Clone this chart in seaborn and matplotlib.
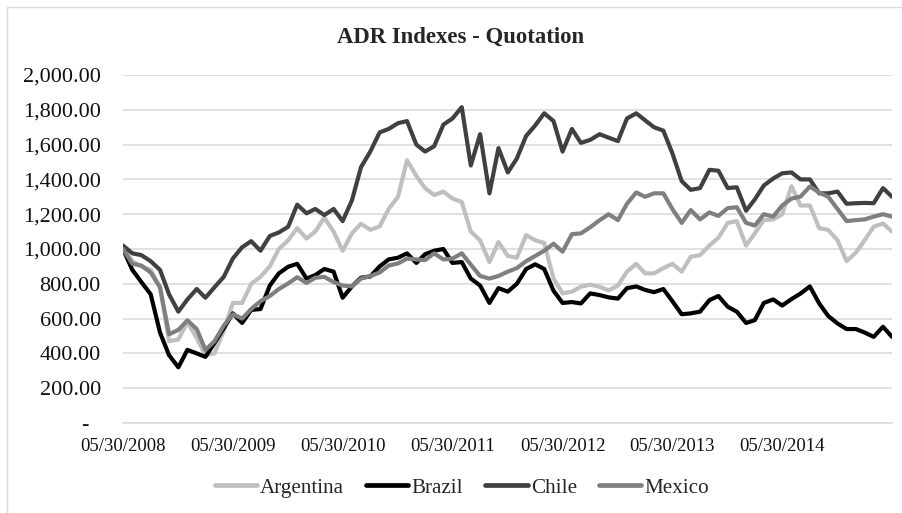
import pandas as pd
import seaborn as sns
from matplotlib import pyplot as plt
from matplotlib.patches import Rectangle
from matplotlib.ticker import FuncFormatter

# monthly readings (30th of each month, 05/2008 .. 05/2015)
start = "2008-05-30"
n_months = 85

argentina = [
    1000, 930, 900, 880, 780, 470, 480, 580, 488, 390,
    400, 530, 690, 690, 800, 840, 900, 1000, 1050, 1120,
    1060, 1100, 1180, 1100, 990, 1090, 1145, 1110, 1130, 1230,
    1300, 1510, 1420, 1350, 1310, 1330, 1290, 1270, 1100, 1050,
    925, 1040, 960, 950, 1080, 1050, 1035, 830, 745, 755,
    783, 795, 783, 762, 790, 870, 915, 860, 860, 890,
    915, 870, 955, 965, 1020, 1065, 1150, 1160, 1020, 1090,
    1166, 1170, 1200, 1360, 1250, 1250, 1120, 1110, 1050, 930,
    980, 1050, 1128, 1147, 1100,
]
brazil = [
    1000, 880, 810, 740, 520, 390, 320, 420, 400, 380,
    460, 545, 630, 575, 650, 655, 790, 860, 898, 915,
    830, 850, 885, 870, 720, 785, 835, 842, 900, 940,
    950, 975, 920, 970, 990, 1000, 920, 925, 830, 790,
    690, 775, 755, 800, 885, 912, 885, 760, 690, 695,
    687, 745, 735, 722, 715, 775, 785, 765, 752, 770,
    700, 625, 630, 640, 706, 730, 668, 640, 575, 591,
    690, 710, 675, 712, 744, 785, 687, 615, 572, 540,
    540, 520, 495, 553, 495,
]
chile = [
    1020, 975, 965, 930, 880, 740, 640, 710, 770, 720,
    780, 840, 945, 1010, 1045, 990, 1075, 1095, 1128, 1255,
    1205, 1230, 1195, 1230, 1160, 1280, 1470, 1560, 1670, 1690,
    1723, 1735, 1600, 1560, 1590, 1715, 1750, 1815, 1480, 1660,
    1320, 1580, 1440, 1520, 1650, 1710, 1780, 1735, 1560, 1690,
    1610, 1627, 1660, 1640, 1620, 1750, 1780, 1740, 1700, 1680,
    1550, 1390, 1340, 1350, 1455, 1450, 1350, 1355, 1220, 1285,
    1365, 1405, 1435, 1440, 1400, 1400, 1320, 1320, 1330, 1260,
    1263, 1265, 1263, 1350, 1300,
]
mexico = [
    1000, 915, 905, 865, 780, 510, 535, 590, 540, 420,
    470, 560, 625, 600, 655, 700, 730, 770, 802, 838,
    805, 835, 840, 810, 790, 785, 830, 845, 865, 905,
    917, 945, 940, 936, 975, 940, 945, 975, 910, 845,
    830, 845, 870, 890, 930, 960, 990, 1030, 985, 1085,
    1090, 1125, 1165, 1200, 1166, 1260, 1325, 1300, 1320, 1320,
    1230, 1150, 1224, 1170, 1210, 1190, 1235, 1240, 1150, 1135,
    1200, 1186, 1250, 1290, 1301, 1359, 1325, 1300, 1230, 1160,
    1166, 1170, 1186, 1200, 1186,
]

countries = ["Argentina", "Brazil", "Chile", "Mexico"]
colors = ["#bfbfbf", "#000000", "#404040", "#7f7f7f"]
tick_years = list(range(2008, 2016))

dates = [pd.Timestamp(start) + pd.DateOffset(months=k) for k in range(n_months)]
df = pd.DataFrame({"date": dates, "Argentina": argentina, "Brazil": brazil,
                   "Chile": chile, "Mexico": mexico})
df_long = df.melt(id_vars="date", var_name="country", value_name="value")

sns.set_style("white")
plt.rcParams["font.family"] = ["Liberation Serif", "DejaVu Serif"]

fig = plt.figure(figsize=(9.02, 5.13), dpi=100)
ax = fig.add_axes([123 / 902, 1 - 423 / 513, (892 - 123) / 902, (423 - 75) / 513])

sns.lineplot(data=df_long, x="date", y="value", hue="country", hue_order=countries,
             palette=colors, linewidth=3.0, ax=ax)

ax.set_ylim(0, 2000)
ax.set_yticks(range(0, 2001, 200))
ax.yaxis.set_major_formatter(FuncFormatter(lambda v, p: "-  " if v == 0 else f"{v:,.2f}"))
ax.set_xlim(pd.Timestamp("2008-05-30"), pd.Timestamp("2015-05-30"))
ticks = [pd.Timestamp(f"{y}-05-30") for y in tick_years]
ax.set_xticks(ticks)
ax.set_xticklabels([f"05/30/{y}" for y in tick_years[:-1]] + [""])
ax.set_xlabel("")
ax.set_ylabel("")

ax.grid(axis="y", color="#d9d9d9", linewidth=1.1)
ax.set_axisbelow(True)
for side in ["top", "right", "left"]:
    ax.spines[side].set_visible(False)
ax.spines["bottom"].set_color("#d9d9d9")
ax.spines["bottom"].set_linewidth(1.1)
ax.tick_params(axis="y", length=0, pad=16, labelsize=16, labelcolor="#111111")
ax.tick_params(axis="x", length=6, width=1.1, color="#d9d9d9", direction="out",
               pad=5, labelsize=13.5, labelcolor="#111111")

fig.text(0.511, 0.928, "ADR Indexes - Quotation", ha="center", va="center",
         fontsize=16.4, fontweight="bold")

handles, labels = ax.get_legend_handles_labels()
for h in handles:
    h.set_linewidth(3.4)
ax.legend(handles, labels, loc="center", bbox_to_anchor=(0.512, 0.049),
          bbox_transform=fig.transFigure, ncol=4, frameon=False, fontsize=15.2,
          handlelength=2.0, handletextpad=0.15, columnspacing=1.05)

fig.patches.append(Rectangle((7 / 902, -0.02), 1.02, 1 - 7 / 513 + 0.02,
                             transform=fig.transFigure, fill=False,
                             edgecolor="#d9d9d9", linewidth=1.0))

fig.savefig("out.png", dpi=100)
